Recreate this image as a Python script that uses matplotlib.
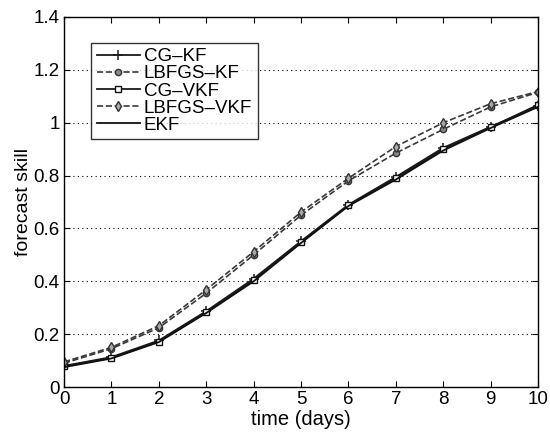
import matplotlib
matplotlib.use("Agg")
import matplotlib.pyplot as plt

days = [0, 1, 2, 3, 4, 5, 6, 7, 8, 9, 10]
cg_kf = [0.080, 0.113, 0.176, 0.287, 0.410, 0.552, 0.690, 0.795, 0.905, 0.985, 1.062]
lbfgs_kf = [0.090, 0.145, 0.224, 0.355, 0.500, 0.650, 0.780, 0.885, 0.975, 1.060, 1.115]
cg_vkf = [0.078, 0.110, 0.172, 0.283, 0.404, 0.547, 0.687, 0.790, 0.900, 0.983, 1.068]
lbfgs_vkf = [0.095, 0.150, 0.232, 0.368, 0.512, 0.662, 0.790, 0.910, 1.000, 1.072, 1.118]
ekf = [0.075, 0.108, 0.170, 0.280, 0.400, 0.545, 0.685, 0.785, 0.895, 0.980, 1.060]

yticks = [0, 0.2, 0.4, 0.6, 0.8, 1, 1.2, 1.4]
yticklabels = ["0", "0.2", "0.4", "0.6", "0.8", "1", "1.2", "1.4"]

plt.rcParams['font.family'] = ['Liberation Sans', 'DejaVu Sans']

fig = plt.figure(figsize=(5.5, 4.37), dpi=100)
ax = fig.add_axes([0.1164, 0.1144, 0.862, 0.8467])

ms = 4.5
ax.plot(days, cg_kf, '-', color='#1a1a1a', lw=1.3, marker='+', ms=7, mew=1.1, label='CG\u2013KF')
ax.plot(days, lbfgs_kf, '--', color='#3a3a3a', lw=1.2, marker='o', ms=ms, mfc='#888888', mec='#333333', label='LBFGS\u2013KF')
ax.plot(days, cg_vkf, '-', color='#1a1a1a', lw=1.3, marker='s', ms=ms, mfc='white', mec='#111111', label='CG\u2013VKF')
ax.plot(days, lbfgs_vkf, '--', color='#3a3a3a', lw=1.2, marker='d', ms=ms + 1, mfc='#aaaaaa', mec='#333333', label='LBFGS\u2013VKF')
ax.plot(days, ekf, '-', color='#111111', lw=1.3, label='EKF')

ax.set_xlim(0, 10)
ax.set_ylim(0, 1.4)
ax.set_xticks(days)
ax.set_yticks(yticks)
ax.set_yticklabels(yticklabels)
ax.yaxis.grid(True, linestyle=(0, (1, 3)), color='black', lw=0.8)
ax.tick_params(direction='in', top=True, right=True, labelsize=13.5, length=4, pad=3)
for s in ax.spines.values():
    s.set_linewidth(1.0)

ax.set_xlabel('time (days)', fontsize=14.5, labelpad=1)
ax.set_ylabel('forecast skill', fontsize=14, labelpad=1)

leg = ax.legend(loc='upper left', bbox_to_anchor=(0.057, 0.931), fontsize=13.5, frameon=True,
                fancybox=False, edgecolor='black', handlelength=2.3, handletextpad=0.2,
                labelspacing=0.0, borderpad=0.3, borderaxespad=0)
leg.get_frame().set_linewidth(1.0)

fig.savefig('out.png', dpi=100)
